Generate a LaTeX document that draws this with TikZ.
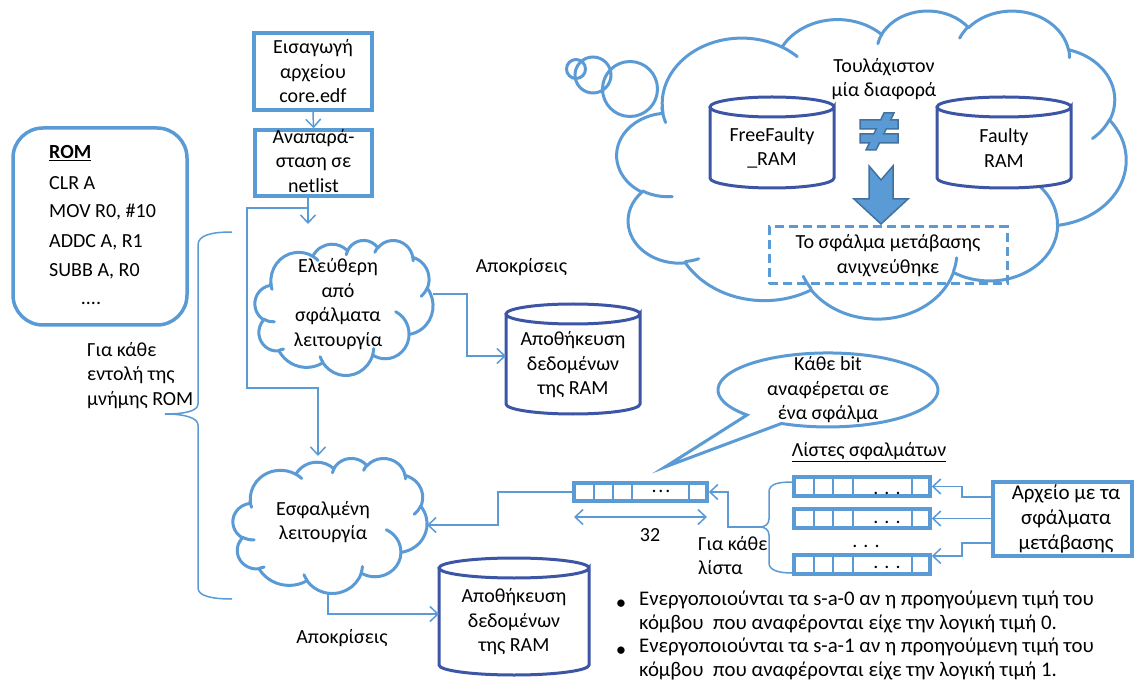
\documentclass[tikz,border=0pt]{standalone}
\usepackage{fontspec}
\setmainfont{Carlito}
\usetikzlibrary{arrows.meta,calc}

\definecolor{lblue}{RGB}{91,155,213}
\definecolor{dblue}{RGB}{60,85,165}
\definecolor{sblue}{RGB}{65,113,156}

\makeatletter
% one elliptic arc of a DrawingML-style path: wR hR stAng swAng (degrees)
\newcommand\ocarc[4]{%
  \pgfmathsetmacro\oc@a{atan2((#1)*sin(#3),(#2)*cos(#3))}%
  \pgfmathsetmacro\oc@b{atan2((#1)*sin((#3)+(#4)),(#2)*cos((#3)+(#4)))}%
  \pgfmathsetmacro\oc@b{\oc@b<\oc@a ? \oc@b+360 : \oc@b}%
  \pgfpatharcaxes{\oc@a}{\oc@b}{\pgfpointxy{#1}{0}}{\pgfpointxy{0}{#2}}%
}
\newcommand\ocmove[2]{\pgfpathmoveto{\pgfpointadd{\pgfpoint{\oc@x}{\oc@y}}{\pgfpointxy{#1}{#2}}}}
% cloud outline in a frame: left top width height
\newcommand\officecloud[4]{%
  \begin{pgfscope}
  \pgfmathsetmacro\oc@sx{#3/432}\pgfmathsetmacro\oc@sy{#4/432}%
  \def\oc@x{#1pt}\def\oc@y{-#2pt}%
  \pgfsetxvec{\pgfpoint{\oc@sx pt}{0pt}}\pgfsetyvec{\pgfpoint{0pt}{-\oc@sy pt}}%
  \pgfsetlinewidth{3pt}\pgfsetroundjoin\pgfsetroundcap
  \pgfsetstrokecolor{lblue}\pgfsetfillcolor{white}%
  \ocmove{39}{143.7}%
  \ocarc{67.53}{91.90}{-190.4875}{123.7805}%
  \ocarc{53.33}{72.67}{-144.1024}{89.9452}%
  \ocarc{43.65}{59.45}{-145.8079}{99.7230}%
  \ocarc{48.57}{65.95}{-130.9861}{117.2417}%
  \ocarc{53.33}{72.73}{-78.7089}{109.0269}%
  \ocarc{67.75}{92.20}{-46.2673}{130.2690}%
  \ocarc{57.85}{78.67}{0.6250}{114.0333}%
  \ocarc{67.52}{92.15}{22.4516}{115.1726}%
  \ocarc{77.20}{105.43}{66.2426}{75.7110}%
  \ocarc{43.60}{59.18}{-274.9421}{146.7356}%
  \ocarc{43.45}{59.45}{-246.8285}{152.5189}%
  \pgfpathclose
  \pgfusepath{fill,stroke}%
  \ocmove{46.93}{261.77}\ocarc{43.45}{59.45}{86.742}{26.4295}%
  \ocmove{69.28}{348.99}\ocarc{43.60}{59.18}{73.6105}{11.4475}%
  \ocmove{164.78}{390.90}\ocarc{67.52}{92.15}{137.6242}{14.0811}%
  \ocmove{288.27}{347.51}\ocarc{67.52}{92.15}{6.4533}{15.9984}%
  \ocmove{341.29}{229.54}\ocarc{57.85}{78.67}{-70.2924}{70.9174}%
  \ocmove{417.98}{153.54}\ocarc{53.33}{72.73}{30.3180}{27.7515}%
  \ocmove{383.24}{54.26}\ocarc{48.57}{65.95}{-13.7443}{14.8589}%
  \ocmove{290.78}{39.52}\ocarc{48.57}{65.95}{-149.1815}{18.1954}%
  \ocmove{221.41}{47.20}\ocarc{43.65}{59.45}{-163.4943}{17.6864}%
  \ocmove{140.00}{51.92}\ocarc{67.53}{91.90}{-66.7070}{12.3194}%
  \ocmove{41.27}{157.89}\ocarc{67.53}{91.90}{155.6460}{17.6706}%
  \pgfusepath{stroke}%
  \end{pgfscope}%
}
\makeatother

% storage cylinder: left top right bottom, cap half-height
\newcommand\can[5]{%
  \draw[canline] (#1,#2+#5) -- (#1,#4-#5)
    arc[start angle=180, end angle=0, x radius={(#3-#1)/2}, y radius=#5]
    -- (#3,#2+#5)
    arc[start angle=0, end angle=360, x radius={(#3-#1)/2}, y radius=#5];
}

% fault register with its cell dividers: name left top right bottom
\newcommand\register[5]{%
  \node[regbox, minimum width={#4-#2}, minimum height={#5-#3}] (#1) at ({(#2+#4)/2},{(#3+#5)/2}) {};
  \foreach \f in {0.15,0.29,0.435,0.865}
    \draw[regdiv] ({#2+\f*(#4-#2)},#3) -- ({#2+\f*(#4-#2)},#5);
}

\tikzset{
  txt/.style={font=\fontsize{20}{24.5}\selectfont, align=center, inner sep=0pt},
  bigtxt/.style={font=\fontsize{20.8}{23.5}\selectfont, inner sep=0pt},
  lbox/.style={draw=lblue, line width=3.5pt, inner sep=0pt},
  regbox/.style={draw=lblue, line width=3.5pt, inner sep=0pt},
  regdiv/.style={draw=lblue, line width=2pt},
  canline/.style={draw=dblue, line width=3pt, fill=white},
  conn/.style={draw=lblue, line width=1.5pt, -{Straight Barb[length=8pt,width=15pt]}},
  plain/.style={draw=lblue, line width=1.5pt},
  frame/.style={inner sep=0pt, outer sep=0pt},
  dots/.style={font=\fontsize{20}{24}\selectfont, inner sep=0pt, anchor=base},
}

\begin{document}
\begin{tikzpicture}[x=1pt, y=-1pt]
\useasboundingbox (0,0) rectangle (1135,684);
\fill[white] (0,0) rectangle (1135,684);

% ---------- program memory ----------
\draw[draw=lblue, line width=3.5pt, rounded corners=30pt] (13,128) rectangle (187,325);
\node[txt, anchor=west] (rom0) at (49,153) {\textbf{\underline{ROM}}};
\node[txt, anchor=west] (rom1) at (49,183) {CLR A};
\node[txt, anchor=west] (rom2) at (49,212) {MOV R0, \#10};
\node[txt, anchor=west] (rom3) at (49,242) {ADDC A, R1};
\node[txt, anchor=west] (rom4) at (49,271) {SUBB A, R0};
\node[dots] (rom5) at (91,305) {....};

% brace for every instruction
\draw[plain] (232,232) .. controls (212,232) and (198,235) .. (198,245) -- (198,404)
  .. controls (198,411) and (185,414) .. (165,414)
  .. controls (185,414) and (198,418) .. (198,425) -- (198,588)
  .. controls (198,596) and (212,599) .. (232,599);
\node[txt, align=left, anchor=north west] (every) at (87,342) {Για κάθε\\εντολή της\\μνήμης ROM};

% ---------- netlist preparation ----------
\node[lbox, txt, minimum width=118, minimum height=77] (imp) at (313,71.5) {Εισαγωγή\\αρχείου\\core.edf};
\node[lbox, minimum width=117, minimum height=66] (net) at (313.5,163) {};
\node[txt] (nett) at (313.5,161) {Αναπαρά-\\σταση σε\\netlist};
\draw[conn] (imp.south) -- (net.north);
\coordinate (netout) at (308,224);
\coordinate (split) at (308,208);
\draw[conn] (net.south -| netout) -- (netout);

% ---------- fault-free run ----------
\node[frame, minimum width=178, minimum height=135] (good) at (344,307.5) {};
\officecloud{255}{240}{178}{135}
\node[txt] (goodt) at (338,304) {Ελεύθερη\\από\\σφάλματα\\λειτουργία};

\can{506}{304}{640}{414}{10}
\node[frame, minimum width=134, minimum height=110] (ram1) at (573,359) {};
\node[txt] (ram1t) at (573,365) {Αποθήκευση\\δεδομένων\\της RAM};
\node[txt] (resp1) at (521.5,267) {Αποκρίσεις};
\coordinate (g1) at (467,294);
\draw[conn] (good.east |- g1) -- (g1) -- (g1 |- 0,356) -- (ram1.west |- 0,356);

% ---------- faulty run ----------
\node[frame, minimum width=194, minimum height=135] (bad) at (330,525.5) {};
\officecloud{233}{458}{194}{135}
\node[txt] (badt) at (323,522) {Εσφαλμένη\\λειτουργία};
\draw[conn] (split) -- (247,208) -- (247,388) -- (318,388) -- (318,456);

\can{439}{558}{589}{675}{10}
\node[frame, minimum width=150, minimum height=117] (ram2) at (514,616.5) {};
\node[txt] (ram2t) at (514,622) {Αποθήκευση\\δεδομένων\\της RAM};
\node[txt] (resp2) at (342,638) {Αποκρίσεις};
\coordinate (b1) at (328,614);
\draw[conn] (b1 |- bad.south) -- (b1) -- (ram2.west |- b1);

% ---------- fault lists ----------
\register{reg}{574}{483}{707}{501}
\node[dots] (regd) at (661,492) {.\kern1.8pt.\kern1.8pt.};
\draw[draw=lblue, line width=1.5pt, {Straight Barb[length=8pt,width=15pt]}-{Straight Barb[length=8pt,width=15pt]}] (574,517) -- (707,517);
\node[txt] (w32) at (650,535) {32};
\coordinate (r1) at (498,492);
\draw[conn] (reg.west) -- (r1) -- (r1 |- 0,525) -- (bad.east |- 0,525);

\node[txt] (lists) at (869,452) {\underline{Λίστες σφαλμάτων}};
\register{l1}{794}{477}{930}{496}
\register{l2}{794}{509}{930}{528}
\register{l3}{794}{555}{930}{574}
\node[dots] (l1d) at (887,494) {. . .};
\node[dots] (l2d) at (887,523) {. . .};
\node[dots] (lmd) at (866,547) {. . .};
\node[dots] (l3d) at (887,568) {. . .};

% brace for every list
\draw[plain] (792,482) .. controls (778,482) and (769,484) .. (769,492) -- (769,519)
  .. controls (769,524) and (765,527) .. (760,527)
  .. controls (765,527) and (769,530) .. (769,535) -- (769,563)
  .. controls (769,570) and (778,573) .. (792,573);
\coordinate (bt) at (760,527);
\coordinate (bk) at (728,527);
\draw[conn] (bt) -- (bk) -- (bk |- reg.east) -- (reg.east);
\node[txt, align=left, anchor=north west] (everylist) at (698,536) {Για κάθε\\λίστα};

\node[lbox, minimum width=139, minimum height=74] (file) at (1062.5,519) {};
\node[txt, font=\fontsize{21}{25}\selectfont] (filet) at (1066,519) {Αρχείο με τα\\σφάλματα\\μετάβασης};
\coordinate (e1) at (962,497);
\coordinate (e3) at (962,543);
\draw[conn] (file.west |- e1) -- (e1) -- (e1 |- l1.east) -- (l1.east);
\draw[conn] (file.west |- l2.east) -- (l2.east);
\draw[conn] (file.west |- e3) -- (e3) -- (962,556) -- (l3.east |- 0,556);

% speech bubble
\draw[draw=lblue, line width=3pt, fill=white] (747,415)
  arc[start angle=137.4, end angle=475, x radius=110, y radius=37] -- (665,467) -- cycle;
\node[txt] (bubble) at (828,390) {Κάθε bit\\αναφέρεται σε\\ένα σφάλμα};

% bullet notes
\node[bigtxt, anchor=base] (b1d) at (621,609) {•};
\node[bigtxt, align=left, anchor=north west] (note1) at (639,591) {Ενεργοποιούνται τα s-a-0 αν η προηγούμενη τιμή του\\κόμβου \ που αναφέρονται είχε την λογική τιμή 0.};
\node[bigtxt, anchor=base] (b2d) at (621,656) {•};
\node[bigtxt, align=left, anchor=north west] (note2) at (639,638) {Ενεργοποιούνται τα s-a-1 αν η προηγούμενη τιμή του\\κόμβου \ που αναφέρονται είχε την λογική τιμή 1.};

% ---------- comparison (thought cloud) ----------
\node[frame, minimum width=509, minimum height=308] (think) at (871.5,164) {};
\officecloud{617}{10}{509}{308}
\draw[draw=lblue, line width=3pt] (576,69) circle[radius=9.5] (593,75) circle[radius=18] (630,89) circle[radius=27.5];

\node[txt] (least) at (884,79) {Τουλάχιστον\\μία διαφορά};
\can{710}{97}{834}{188}{10}
\node[frame, minimum width=124, minimum height=91] (ffram) at (772,142.5) {};
\node[txt] (fframt) at (772,148) {FreeFaulty\\\_RAM};
\can{937}{97}{1071}{188}{10}
\node[frame, minimum width=134, minimum height=91] (fram) at (1004,142.5) {};
\node[txt] (framt) at (1004,148) {Faulty\\RAM};

% not-equal sign
\filldraw[fill=lblue, draw=sblue, line width=1.5pt, line join=miter]
  (884,113) -- (894,113) -- (890.6,120) -- (898,120) -- (898,129) -- (886.2,129)
  -- (883.8,134) -- (898,134) -- (898,143) -- (879.4,143) -- (876,150) -- (866,150)
  -- (869.4,143) -- (860,143) -- (860,134) -- (873.8,134) -- (876.2,129) -- (860,129)
  -- (860,120) -- (880.6,120) -- cycle;
% block arrow
\filldraw[fill=lblue, draw=sblue, line width=1.5pt]
  (869,166) -- (881,180) -- (893,166) -- (893,199) -- (908,199) -- (881,224)
  -- (854,199) -- (869,199) -- cycle;

\node[draw=lblue, line width=3pt, dash pattern=on 9pt off 5pt, txt,
  minimum width=238, minimum height=57] (found) at (888,255.5) {Το σφάλμα μετάβασης\\ανιχνεύθηκε};
\end{tikzpicture}
\end{document}
